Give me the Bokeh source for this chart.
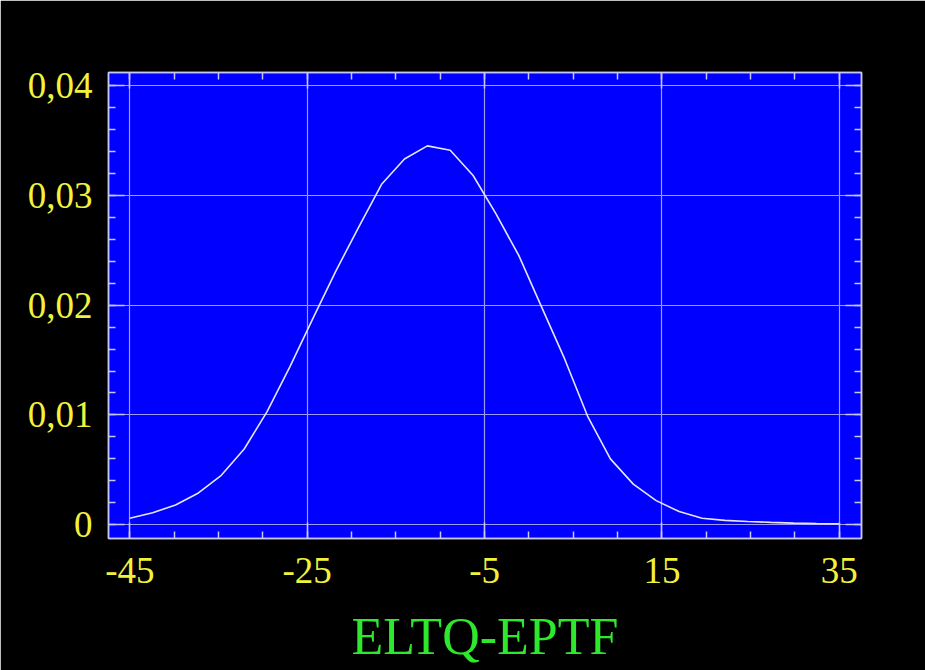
from bokeh.plotting import figure
from bokeh.models import LinearAxis, FixedTicker, CustomJSTickFormatter, Range1d, Grid
from bokeh.embed import file_html
from bokeh.resources import INLINE

# Data
x_vals = [-45.0, -42.42, -39.84, -37.26, -34.68, -32.10, -29.52, -26.94,
          -24.35, -21.77, -19.19, -16.61, -14.03, -11.45, -8.87, -6.29,
          -3.71, -1.13, 1.45, 4.03, 6.61, 9.19, 11.77, 14.35,
          16.94, 19.52, 22.10, 24.68, 27.26, 29.84, 32.42, 35.0]
density = [0.0006, 0.0011, 0.0018, 0.0029, 0.0045, 0.0069, 0.0103, 0.0144,
           0.0188, 0.0231, 0.0271, 0.0310, 0.0333, 0.0345, 0.0341, 0.0318,
           0.0283, 0.0245, 0.0198, 0.0151, 0.0099, 0.0060, 0.0037, 0.0022,
           0.0012, 0.0006, 0.0004, 0.0003, 0.00022, 0.00015, 0.0001, 0.00008]
x_major = [-45, -25, -5, 15, 35]
x_minor = [-45, -40, -35, -30, -25, -20, -15, -10, -5, 0, 5, 10, 15, 20, 25, 30, 35]
y_major = [0.0, 0.01, 0.02, 0.03, 0.04]
y_minor = [0.0, 0.002, 0.004, 0.006, 0.008, 0.01, 0.012, 0.014, 0.016, 0.018, 0.02,
           0.022, 0.024, 0.026, 0.028, 0.03, 0.032, 0.034, 0.036, 0.038, 0.04]
x_label = "ELTQ-EPTF"

FONT = "Liberation Serif"
YELLOW = "#f2f23c"
GREEN = "#2ee82e"
LIGHT = "#c8c8f0"
GRID = "#9a9aff"

p = figure(width=925, height=670, output_backend="svg", toolbar_location=None,
           x_range=Range1d(-47.4, 37.5), y_range=Range1d(-0.00125, 0.04118),
           x_axis_location=None, y_axis_location=None,
           min_border_left=108, min_border_right=64, min_border_top=72,
           min_border_bottom=132)
p.background_fill_color = "#0000ff"
p.border_fill_color = "black"
p.outline_line_color = LIGHT
p.outline_line_width = 1.5

xt = FixedTicker(ticks=x_major, minor_ticks=x_minor)
yt = FixedTicker(ticks=y_major, minor_ticks=y_minor)

xtick_fmt = CustomJSTickFormatter(code="return String(Math.round(tick));")
ytick_fmt = CustomJSTickFormatter(code="""
if (Math.abs(tick) < 1e-9) { return '0'; }
return tick.toFixed(2).replace('.', ',');
""")
blank_fmt = CustomJSTickFormatter(code="return '';")

def style(ax):
    ax.axis_line_color = LIGHT
    ax.axis_line_width = 1.5
    ax.major_tick_in = 16
    ax.major_tick_out = 0
    ax.minor_tick_in = 7
    ax.minor_tick_out = 0
    ax.major_tick_line_color = LIGHT
    ax.minor_tick_line_color = LIGHT
    ax.major_tick_line_width = 1.5
    ax.minor_tick_line_width = 1.5
    ax.major_label_text_font = FONT
    ax.major_label_text_font_size = "37px"
    ax.major_label_text_color = YELLOW

bottom = LinearAxis(ticker=xt, formatter=xtick_fmt, axis_label=x_label)
style(bottom)
bottom.major_label_standoff = 19
bottom.axis_label_text_font = FONT
bottom.axis_label_text_font_size = "52px"
bottom.axis_label_text_font_style = "normal"
bottom.axis_label_text_color = GREEN
bottom.axis_label_standoff = 22
p.add_layout(bottom, "below")

left = LinearAxis(ticker=yt, formatter=ytick_fmt)
style(left)
left.major_label_standoff = 16
p.add_layout(left, "left")

top = LinearAxis(ticker=xt, formatter=blank_fmt)
style(top)
top.major_label_text_font_size = "1px"
p.add_layout(top, "above")

right = LinearAxis(ticker=yt, formatter=blank_fmt)
style(right)
right.major_label_text_font_size = "1px"
p.add_layout(right, "right")

p.xgrid.visible = False
p.ygrid.visible = False
p.add_layout(Grid(dimension=0, ticker=xt, grid_line_color=GRID, grid_line_width=1.2))
p.add_layout(Grid(dimension=1, ticker=yt, grid_line_color=GRID, grid_line_width=1.2))

p.line(x_vals, density, line_color="#e6e6ff", line_width=1.6)

open("out.html", "w").write(file_html(p, INLINE))
